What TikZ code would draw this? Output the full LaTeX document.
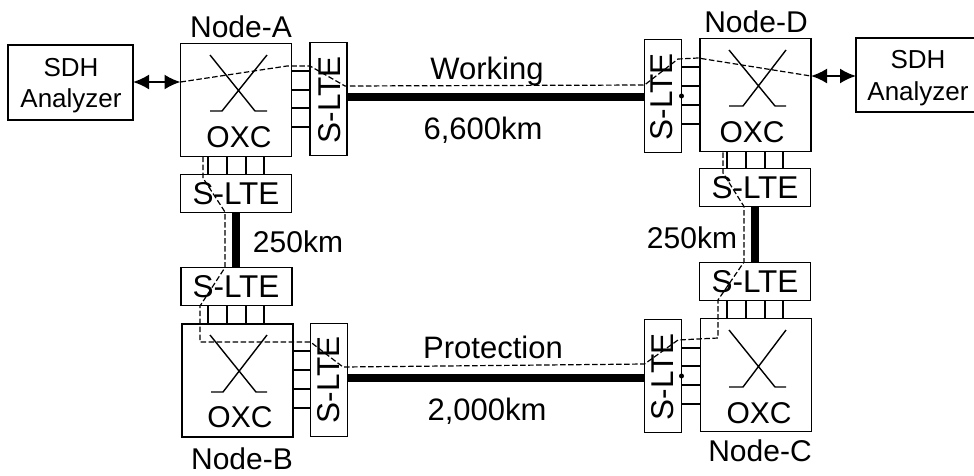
\documentclass[tikz,border=0pt]{standalone}
\usepackage{fontspec}
\setmainfont{Liberation Sans}
\usetikzlibrary{arrows.meta}
\tikzset{
  boxnode/.style={draw=black,line width=1.5pt,fill=white,inner sep=0pt,outer sep=0pt},
  oxcbox/.style={boxnode,minimum width=111pt,minimum height=113pt},
  ltewide/.style={boxnode,minimum width=111pt,minimum height=38pt},
  ltetall/.style={boxnode,minimum width=37pt,minimum height=113pt},
  lbl/.style={inner sep=0pt,outer sep=0pt,anchor=base,font=\fontsize{30}{30}\selectfont},
  lblb/.style={lbl,font=\fontsize{31}{31}\selectfont},
  ltetxt/.style={lbl,font=\fontsize{31.5}{31.5}\selectfont},
  sdh/.style={lbl,font=\fontsize{26}{26}\selectfont},
  lterot/.style={ltetxt,rotate=90},
  stub/.style={line width=1.4pt},
  xline/.style={line width=1.4pt},
  thick link/.style={line width=8.5pt},
  path dash/.style={line width=1.2pt,dash pattern=on 5.5pt off 2.5pt},
  biarrow/.style={line width=2pt,{Latex[length=16pt,width=15pt]}-{Latex[length=16pt,width=15pt]}}
}
\begin{document}
\begin{tikzpicture}[x=1pt,y=-1pt]
\useasboundingbox (0,0) rectangle (974,475);
\node[boxnode,minimum width=125pt,minimum height=75pt] (sdhL) at (70.5,82.5) {};
\node[boxnode,minimum width=119pt,minimum height=74pt] (sdhR) at (915.5,75) {};
\node[oxcbox] (oxcA) at (236,100) {};
\node[oxcbox] (oxcB) at (237.5,380.5) {};
\node[oxcbox] (oxcC) at (756,375) {};
\node[oxcbox] (oxcD) at (755.5,95) {};
\node[ltetall] (lteAr) at (328.5,99) {};
\node[ltetall] (lteBr) at (329,380) {};
\node[ltetall] (lteDl) at (663,96) {};
\node[ltetall] (lteCl) at (663,376) {};
\node[ltewide] (lteAb) at (236,193.5) {};
\node[ltewide] (lteBt) at (236.5,286.5) {};
\node[ltewide] (lteDb) at (755,187.5) {};
\node[ltewide] (lteCt) at (755,281.5) {};
% thick fibre links
\draw[thick link] (lteAr.east |- 0,97) -- (lteDl.west |- 0,97);
\draw[thick link] (lteBr.east |- 0,378) -- (lteCl.west |- 0,378);
\draw[thick link] (lteAb.south -| 236,0) -- (lteBt.north -| 236,0);
\draw[thick link] (lteDb.south -| 755,0) -- (lteCt.north -| 755,0);
% stubs
\foreach \y in {71,90,108,127} \draw[stub] (oxcA.east |- 0,\y) -- (lteAr.west |- 0,\y);
\foreach \y in {351,370,389,408} \draw[stub] (oxcB.east |- 0,\y) -- (lteBr.west |- 0,\y);
\foreach \y in {67,86,105,124} \draw[stub] (oxcD.west |- 0,\y) -- (lteDl.east |- 0,\y);
\foreach \y in {348,366,385,404} \draw[stub] (oxcC.west |- 0,\y) -- (lteCl.east |- 0,\y);
\foreach \x in {208,227,246,264} {
  \draw[stub] (oxcA.south -| \x,0) -- (lteAb.north -| \x,0);
  \draw[stub] (oxcB.north -| \x,0) -- (lteBt.south -| \x,0);
}
\foreach \x in {727,746,765,783} {
  \draw[stub] (oxcD.south -| \x,0) -- (lteDb.north -| \x,0);
  \draw[stub] (oxcC.north -| \x,0) -- (lteCt.south -| \x,0);
}
% small solder dots
\coordinate (dotD) at (lteDl.east |- 0,96);
\coordinate (dotC) at (lteCl.east |- 0,376);
\fill (dotD) circle (2.5pt);
\fill (dotC) circle (2.5pt);
% crossings
\draw[xline] (210,55) -- (255,111) -- (267,111) (267,55) -- (222,111) -- (210,111);
\draw[xline] (210,335) -- (256,392) -- (267,392) (267,335) -- (223,392) -- (211,392);
\draw[xline] (729,50) -- (775,106) -- (786,106) (786,50) -- (743,106) -- (729,106);
\draw[xline] (729,330) -- (775,387) -- (786,387) (786,330) -- (743,387) -- (729,387);
% analyzer arrows
\draw[biarrow] (sdhL.east |- 0,82) -- (oxcA.west |- 0,82);
\draw[biarrow] (oxcD.east |- 0,76) -- (sdhR.west |- 0,76);
% labels
\node[lbl] (tNA) at (241,37) {Node-A};
\node[lbl] (tND) at (756,32) {Node-D};
\node[lbl] (tNB) at (242,469) {Node-B};
\node[lbl] (tNC) at (760,461) {Node-C};
\node[sdh] (tS1) at (71,76) {SDH};
\node[sdh] (tA1) at (71,107) {Analyzer};
\node[sdh] (tS2) at (918,68) {SDH};
\node[sdh] (tA2) at (918,100) {Analyzer};
\node[lbl] (tOA) at (239,147) {OXC};
\node[lbl] (tOB) at (240,427) {OXC};
\node[lbl] (tOC) at (759,423) {OXC};
\node[lbl] (tOD) at (752,142) {OXC};
\node[ltetxt] (tL1) at (236,204) {S-LTE};
\node[ltetxt] (tL2) at (236,297) {S-LTE};
\node[ltetxt] (tL3) at (755,198) {S-LTE};
\node[ltetxt] (tL4) at (755,292) {S-LTE};
\node[lterot] (tR1) at (340,100) {S-LTE};
\node[lterot] (tR2) at (339,380) {S-LTE};
\node[lterot] (tR3) at (672,97) {S-LTE};
\node[lterot] (tR4) at (673,377) {S-LTE};
\node[lblb] (tW) at (487,79) {Working};
\node[lblb] (tP) at (493,358) {Protection};
\node[lblb] (t66) at (483,139) {6,600km};
\node[lblb] (t20) at (487,420) {2,000km};
\node[lbl] (t25a) at (298,252) {250km};
\node[lbl] (t25b) at (692,248) {250km};
% dashed signal path, working route
\draw[path dash] (oxcA.west |- 0,82) -- (287,66) -- (lteAr.west |- 0,66) -- (345,86) -- (lteDl.west |- 0,85)
  -- (678,59) -- (698,58) -- (oxcD.east |- 0,76);
% dashed signal path, protection route
\draw[path dash] (oxcA.south -| 203,0) -- (203,178) -- (225,212) -- (lteBt.north -| 225,0)
  -- (200,306) -- (200,342) -- (lteBr.west |- 0,342) -- (343,367) -- (lteCl.west |- 0,364)
  -- (678,340) -- (718,338) -- (718,300) -- (744,262) -- (lteDb.south -| 744,0) -- (723,173) -- (oxcD.south -| 723,0);
\end{tikzpicture}
\end{document}
